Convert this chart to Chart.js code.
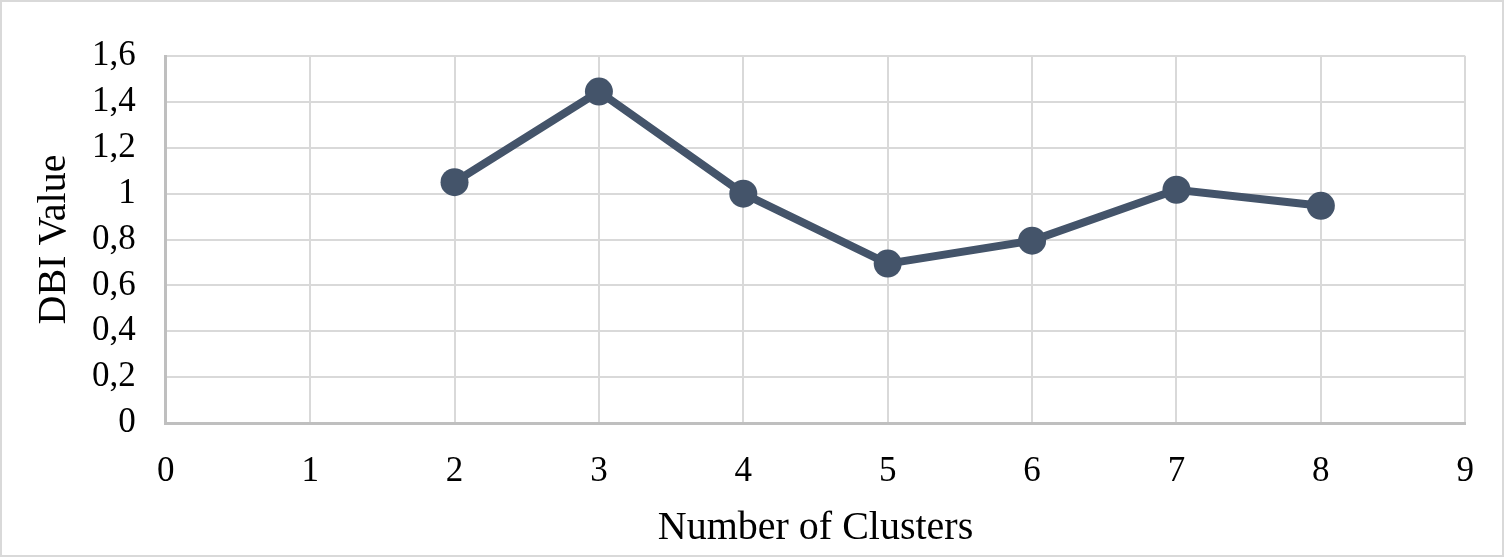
<!DOCTYPE html>
<html>
<head>
<meta charset="utf-8">
<script src="https://cdn.jsdelivr.net/npm/chart.js@4/dist/chart.umd.min.js"></script>
<style>
  html, body { margin: 0; padding: 0; background: #fff; }
  .box { position: relative; width: 1504px; height: 557px; box-sizing: border-box; border: 2px solid #d9d9d9; }
  canvas { display: block; }
</style>
</head>
<body>
<div class="box"><canvas id="chart"></canvas></div>
<script>
// clusters vs DBI value
const clusters  = [2, 3, 4, 5, 6, 7, 8];
const dbiValues = [1.05, 1.445, 1.0, 0.695, 0.795, 1.017, 0.947];

const xTitle = 'Number of Clusters';
const yTitle = 'DBI Value';

const LINE = '#44546a';
const GRID = '#d9d9d9';
const AXIS = '#bfbfbf';
const FONT = "'Liberation Serif', 'Times New Roman', serif";

const fmt = v => String(Math.round(v * 10) / 10).replace('.', ',');

const ctx = document.getElementById('chart').getContext('2d');
new Chart(ctx, {
  type: 'line',
  data: {
    datasets: [{
      data: clusters.map((c, i) => ({ x: c, y: dbiValues[i] })),
      borderColor: LINE,
      backgroundColor: LINE,
      borderWidth: 8,
      pointRadius: 14,
      pointHoverRadius: 14,
      pointBackgroundColor: LINE,
      pointBorderWidth: 0,
      tension: 0
    }]
  },
  options: {
    responsive: true,
    maintainAspectRatio: false,
    animation: false,
    layout: { padding: { left: 28, right: 35, top: 54, bottom: 0 } },
    plugins: { legend: { display: false }, tooltip: { enabled: false } },
    scales: {
      x: {
        type: 'linear',
        min: 0, max: 9,
        ticks: { stepSize: 1, autoSkip: false, color: '#000', font: { family: FONT, size: 35 }, padding: 28 },
        grid: { color: GRID, lineWidth: 2, drawTicks: false },
        border: { color: AXIS, width: 3 },
        title: { display: true, text: xTitle, color: '#000', font: { family: FONT, size: 40 }, padding: { top: -17, bottom: 3 } }
      },
      y: {
        min: 0, max: 1.6,
        ticks: { stepSize: 0.2, autoSkip: false, color: '#000', font: { family: FONT, size: 35 }, padding: 30, callback: v => fmt(v) },
        grid: { color: GRID, lineWidth: 2, drawTicks: false },
        border: { color: AXIS, width: 3 },
        title: { display: true, text: yTitle, color: '#000', font: { family: FONT, size: 40 }, padding: { top: 0, bottom: -16 } }
      }
    }
  }
});
</script>
</body>
</html>
